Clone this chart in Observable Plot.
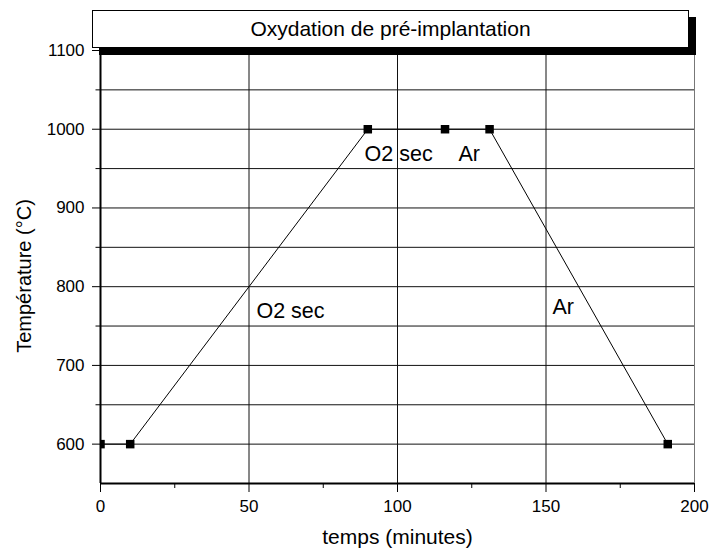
<!DOCTYPE html>
<html>
<head>
<meta charset="utf-8">
<script src="https://cdn.jsdelivr.net/npm/d3@7"></script>
<script src="https://cdn.jsdelivr.net/npm/@observablehq/plot@0.6"></script>
<style>
  html, body { margin: 0; padding: 0; background: #fff; }
  #wrap { position: relative; width: 709px; height: 552px; font-family: "Liberation Sans", Arial, sans-serif; }
  #title {
    position: absolute; left: 92px; top: 10px; width: 595px; height: 36px;
    border: 1px solid #000; background: #fff; box-shadow: 7px 7px 0 #000;
    font-size: 21px; line-height: 36px; text-align: center; color: #000;
  }
</style>
</head>
<body>
<div id="wrap"></div>
<script>
const titleText = "Oxydation de pré-implantation";
const xLabel = "temps (minutes)";
const yLabel = "Température (°C)";

const times = [0, 10, 90, 116, 131, 191];
const temps = [600, 600, 1000, 1000, 1000, 600];

const annoText = ["O2 sec", "Ar", "O2 sec", "Ar"];
const annoX = [88.9, 120.5, 52.5, 152.2];
const annoY = [969, 969, 768.5, 773.5];

const xMajor = [0, 50, 100, 150, 200];
const xMinor = [25, 75, 125, 175];
const xGrid = [50, 100, 150];
const yMajor = [600, 700, 800, 900, 1000, 1100];
const yMinor = [650, 750, 850, 950, 1050];
const yGrid = [600, 650, 700, 750, 800, 850, 900, 950, 1000, 1050];

const points = times.map((t, i) => ({t, v: temps[i]}));
const notes = annoText.map((s, i) => ({s, x: annoX[i], y: annoY[i]}));
const fmt = d => String(d);

const chart = Plot.plot({
  width: 709,
  height: 552,
  marginLeft: 100,
  marginRight: 15,
  marginTop: 50,
  marginBottom: 69,
  style: {fontFamily: "'Liberation Sans', Arial, sans-serif", fontSize: "17px", color: "#000", background: "#fff", overflow: "visible"},
  x: {domain: [0, 200]},
  y: {domain: [550, 1100]},
  marks: [
    Plot.gridY(yGrid, {stroke: "#111", strokeOpacity: 1, strokeWidth: 1}),
    Plot.gridX(xGrid, {stroke: "#111", strokeOpacity: 1, strokeWidth: 1}),
    Plot.ruleX([200], {stroke: "#777", strokeWidth: 1}),
    Plot.axisX(xMajor, {tickSize: 9, tickPadding: 7, fontSize: 17, tickFormat: fmt, label: null}),
    Plot.axisX(xMinor, {tickSize: 5, text: null, label: null}),
    Plot.axisY(yMajor, {tickSize: 8, tickPadding: 8, fontSize: 17, tickFormat: fmt, label: null}),
    Plot.axisY(yMinor, {tickSize: 4.5, text: null, label: null}),
    Plot.ruleX([0], {stroke: "#000", strokeWidth: 2}),
    Plot.ruleY([550], {stroke: "#000", strokeWidth: 2}),
    Plot.line(points, {x: "t", y: "v", stroke: "#000", strokeWidth: 1}),
    Plot.dot(points, {x: "t", y: "v", symbol: "square", r: 4.8, fill: "#000", stroke: "none", clip: true}),
    Plot.text(notes, {x: "x", y: "y", text: "s", textAnchor: "start", fontSize: 21.5, fill: "#000"}),
    Plot.text([xLabel], {text: d => d, frameAnchor: "bottom", lineAnchor: "middle", textAnchor: "middle", dy: 54, fontSize: 21, fill: "#000"}),
    Plot.text([yLabel], {text: d => d, frameAnchor: "left", lineAnchor: "middle", textAnchor: "middle", dx: -76, dy: 9, rotate: -90, fontSize: 20, fill: "#000"})
  ]
});

const wrap = document.getElementById("wrap");
wrap.appendChild(chart);
const t = document.createElement("div");
t.id = "title";
t.textContent = titleText;
wrap.appendChild(t);
</script>
</body>
</html>
